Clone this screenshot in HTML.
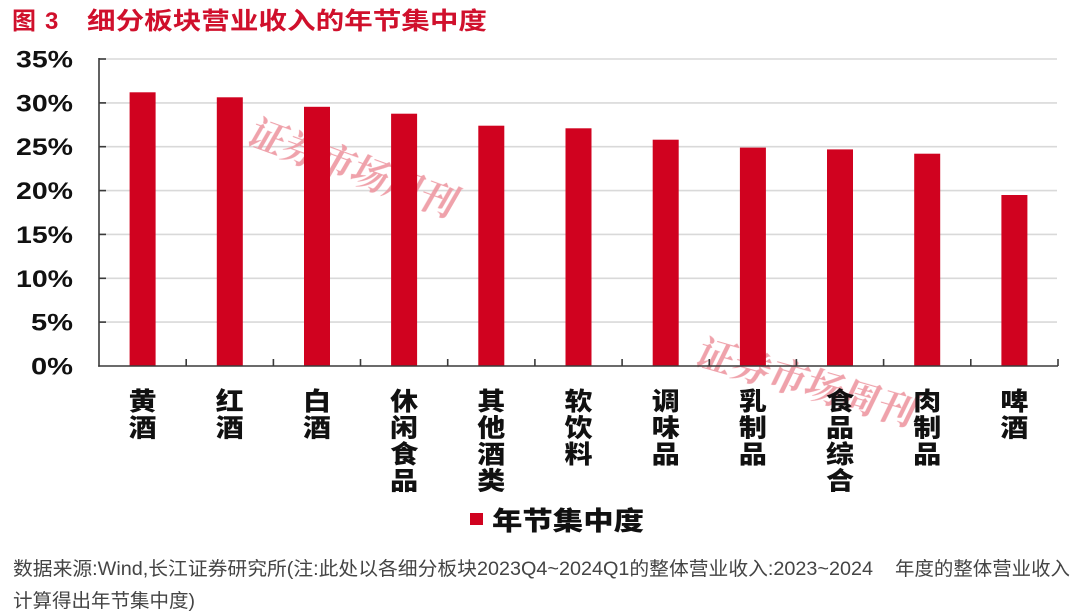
<!DOCTYPE html>
<html>
<head>
<meta charset="utf-8">
<style>
html,body{margin:0;padding:0;background:#fff;}
svg{display:block;}
</style>
</head>
<body>
<svg width="1080" height="616" viewBox="0 0 1080 616" xmlns="http://www.w3.org/2000/svg">
  <rect width="1080" height="616" fill="#fff"/>

  <!-- Title -->
  <text x="12" y="29" font-family="Noto Sans CJK SC, sans-serif" font-weight="bold" font-size="24" fill="#d0102c">图</text>
  <text x="45" y="29" font-family="Liberation Sans, sans-serif" font-weight="bold" font-size="24" fill="#d0102c">3</text>
  <text x="87" y="29" font-family="Liberation Sans, Noto Sans CJK SC, sans-serif" font-weight="bold" font-size="24" fill="#d0102c" textLength="400" lengthAdjust="spacingAndGlyphs">细分板块营业收入的年节集中度</text>

  <!-- Gridlines -->
  <g stroke="#d9d9d9" stroke-width="1.6">
    <line x1="99" y1="59" x2="1057" y2="59"/>
    <line x1="99" y1="102.9" x2="1057" y2="102.9"/>
    <line x1="99" y1="146.7" x2="1057" y2="146.7"/>
    <line x1="99" y1="190.6" x2="1057" y2="190.6"/>
    <line x1="99" y1="234.4" x2="1057" y2="234.4"/>
    <line x1="99" y1="278.3" x2="1057" y2="278.3"/>
    <line x1="99" y1="322.1" x2="1057" y2="322.1"/>
  </g>

  <!-- Watermarks (behind bars) -->
  <g font-family="Noto Serif CJK SC, serif" font-weight="bold" font-size="38" fill="#ee98a2" opacity="0.9">
    <text transform="translate(244,143) rotate(20) skewX(-10)" textLength="218" lengthAdjust="spacingAndGlyphs">证券市场周刊</text>
    <text transform="translate(692,364) rotate(16) skewX(-10)" textLength="226" lengthAdjust="spacingAndGlyphs">证券市场周刊</text>
  </g>

  <!-- Bars -->
  <g fill="#d0021f">
    <rect x="129.6" y="92.3" width="26" height="273.7"/>
    <rect x="216.8" y="97.3" width="26" height="268.7"/>
    <rect x="304.0" y="106.8" width="26" height="259.2"/>
    <rect x="391.1" y="113.7" width="26" height="252.3"/>
    <rect x="478.3" y="125.7" width="26" height="240.3"/>
    <rect x="565.5" y="128.3" width="26" height="237.7"/>
    <rect x="652.7" y="139.7" width="26" height="226.3"/>
    <rect x="739.9" y="147.6" width="26" height="218.4"/>
    <rect x="827.0" y="149.4" width="26" height="216.6"/>
    <rect x="914.2" y="153.7" width="26" height="212.3"/>
    <rect x="1001.4" y="195.0" width="26" height="171.0"/>
  </g>

  <!-- Axes -->
  <g stroke="#3a3a3a" stroke-width="1.6" fill="none">
    <line x1="99" y1="58" x2="99" y2="366.8"/>
    <line x1="98.2" y1="366" x2="1058" y2="366"/>
    <line x1="99" y1="59" x2="106" y2="59"/>
    <line x1="99" y1="102.9" x2="106" y2="102.9"/>
    <line x1="99" y1="146.7" x2="106" y2="146.7"/>
    <line x1="99" y1="190.6" x2="106" y2="190.6"/>
    <line x1="99" y1="234.4" x2="106" y2="234.4"/>
    <line x1="99" y1="278.3" x2="106" y2="278.3"/>
    <line x1="99" y1="322.1" x2="106" y2="322.1"/>
    <line x1="186.2" y1="366" x2="186.2" y2="359"/>
    <line x1="273.4" y1="366" x2="273.4" y2="359"/>
    <line x1="360.5" y1="366" x2="360.5" y2="359"/>
    <line x1="447.7" y1="366" x2="447.7" y2="359"/>
    <line x1="534.9" y1="366" x2="534.9" y2="359"/>
    <line x1="622.1" y1="366" x2="622.1" y2="359"/>
    <line x1="709.3" y1="366" x2="709.3" y2="359"/>
    <line x1="796.4" y1="366" x2="796.4" y2="359"/>
    <line x1="883.6" y1="366" x2="883.6" y2="359"/>
    <line x1="970.8" y1="366" x2="970.8" y2="359"/>
    <line x1="1058" y1="366" x2="1058" y2="359"/>
  </g>

  <!-- Y labels -->
  <g font-family="Liberation Sans, sans-serif" font-weight="bold" font-size="24" fill="#111" text-anchor="end">
    <text x="73" y="67.5" textLength="57" lengthAdjust="spacingAndGlyphs">35%</text>
    <text x="73" y="111.4" textLength="57" lengthAdjust="spacingAndGlyphs">30%</text>
    <text x="73" y="155.2" textLength="57" lengthAdjust="spacingAndGlyphs">25%</text>
    <text x="73" y="199.1" textLength="57" lengthAdjust="spacingAndGlyphs">20%</text>
    <text x="73" y="242.9" textLength="57" lengthAdjust="spacingAndGlyphs">15%</text>
    <text x="73" y="286.8" textLength="57" lengthAdjust="spacingAndGlyphs">10%</text>
    <text x="73" y="330.6" textLength="42" lengthAdjust="spacingAndGlyphs">5%</text>
    <text x="73" y="374.5" textLength="42" lengthAdjust="spacingAndGlyphs">0%</text>
  </g>

  <!-- X labels (vertical stacked) -->
  <g font-family="Noto Sans CJK SC, sans-serif" font-weight="900" font-size="25" fill="#111" text-anchor="middle">
    <text transform="translate(142.6,410) scale(1.12,1)">黄</text>
    <text transform="translate(142.6,436.5) scale(1.12,1)">酒</text>

    <text transform="translate(229.8,410) scale(1.12,1)">红</text>
    <text transform="translate(229.8,436.5) scale(1.12,1)">酒</text>

    <text transform="translate(317.0,410) scale(1.12,1)">白</text>
    <text transform="translate(317.0,436.5) scale(1.12,1)">酒</text>

    <text transform="translate(404.1,410) scale(1.12,1)">休</text>
    <text transform="translate(404.1,436.5) scale(1.12,1)">闲</text>
    <text transform="translate(404.1,463) scale(1.12,1)">食</text>
    <text transform="translate(404.1,489.5) scale(1.12,1)">品</text>

    <text transform="translate(491.3,410) scale(1.12,1)">其</text>
    <text transform="translate(491.3,436.5) scale(1.12,1)">他</text>
    <text transform="translate(491.3,463) scale(1.12,1)">酒</text>
    <text transform="translate(491.3,489.5) scale(1.12,1)">类</text>

    <text transform="translate(578.5,410) scale(1.12,1)">软</text>
    <text transform="translate(578.5,436.5) scale(1.12,1)">饮</text>
    <text transform="translate(578.5,463) scale(1.12,1)">料</text>

    <text transform="translate(665.7,410) scale(1.12,1)">调</text>
    <text transform="translate(665.7,436.5) scale(1.12,1)">味</text>
    <text transform="translate(665.7,463) scale(1.12,1)">品</text>

    <text transform="translate(752.9,410) scale(1.12,1)">乳</text>
    <text transform="translate(752.9,436.5) scale(1.12,1)">制</text>
    <text transform="translate(752.9,463) scale(1.12,1)">品</text>

    <text transform="translate(840.0,410) scale(1.12,1)">食</text>
    <text transform="translate(840.0,436.5) scale(1.12,1)">品</text>
    <text transform="translate(840.0,463) scale(1.12,1)">综</text>
    <text transform="translate(840.0,489.5) scale(1.12,1)">合</text>

    <text transform="translate(927.2,410) scale(1.12,1)">肉</text>
    <text transform="translate(927.2,436.5) scale(1.12,1)">制</text>
    <text transform="translate(927.2,463) scale(1.12,1)">品</text>

    <text transform="translate(1014.4,410) scale(1.12,1)">啤</text>
    <text transform="translate(1014.4,436.5) scale(1.12,1)">酒</text>
  </g>

  <!-- Legend -->
  <rect x="470" y="513" width="13" height="12" fill="#d0021f"/>
  <text x="492" y="530" font-family="Liberation Sans, Noto Sans CJK SC, sans-serif" font-weight="900" font-size="26" fill="#111" textLength="152" lengthAdjust="spacingAndGlyphs">年节集中度</text>

  <!-- Footnote -->
  <g font-family="Liberation Sans, Noto Sans CJK SC, sans-serif" font-size="19" fill="#444">
    <text x="13" y="575" textLength="860" lengthAdjust="spacingAndGlyphs">数据来源:Wind,长江证券研究所(注:此处以各细分板块2023Q4~2024Q1的整体营业收入:2023~2024</text>
    <text x="895" y="575" textLength="175" lengthAdjust="spacingAndGlyphs">年度的整体营业收入</text>
    <text x="13" y="607" textLength="182" lengthAdjust="spacingAndGlyphs">计算得出年节集中度)</text>
  </g>
</svg>
</body>
</html>
